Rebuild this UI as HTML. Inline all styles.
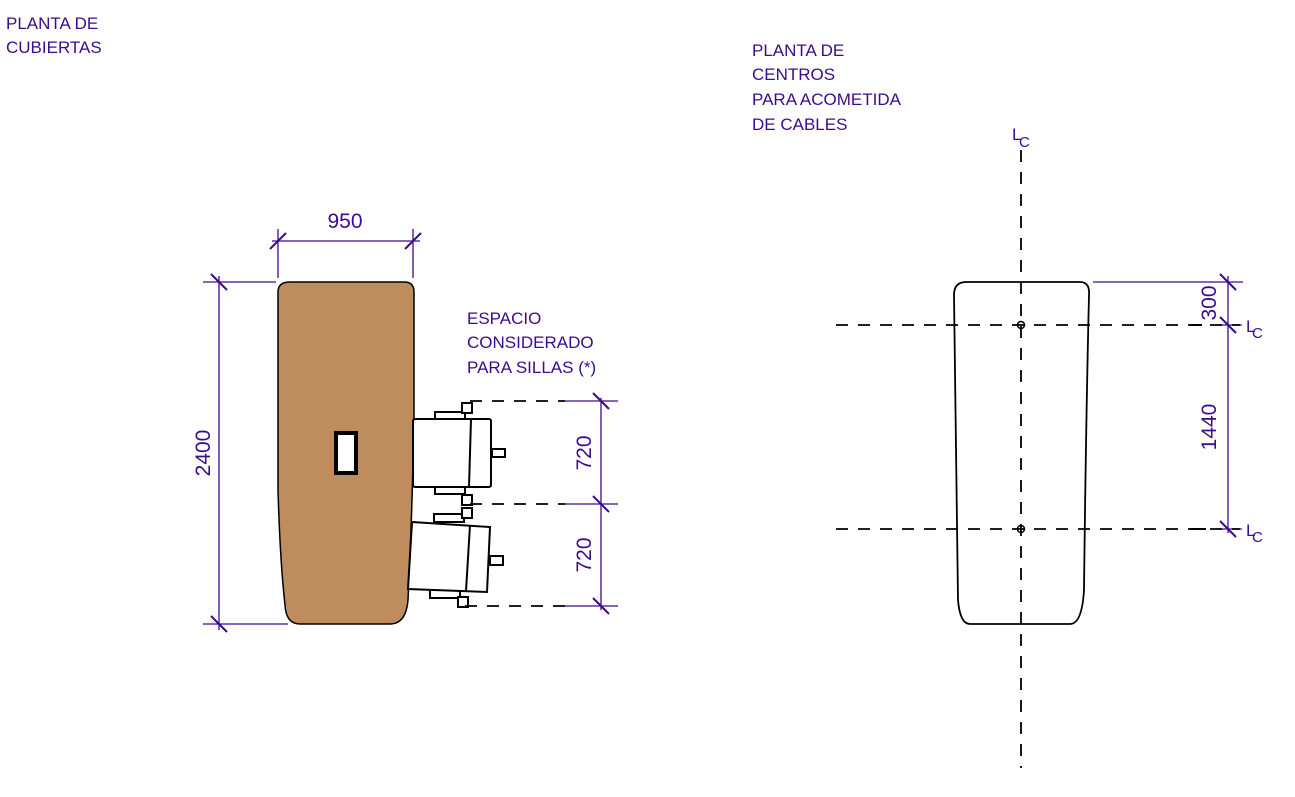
<!DOCTYPE html>
<html><head><style>body{margin:0;background:#fff}svg text{font-family:"Liberation Sans",sans-serif;fill:#3c0a8c}</style></head><body>
<svg width="1295" height="792" xmlns="http://www.w3.org/2000/svg">
<g font-size="17">
<text x="6" y="29">PLANTA DE</text><text x="6" y="53">CUBIERTAS</text>
<text x="752" y="56">PLANTA DE</text><text x="752" y="80">CENTROS</text><text x="752" y="105">PARA ACOMETIDA</text><text x="752" y="130">DE CABLES</text>
<text x="467" y="324">ESPACIO</text><text x="467" y="348">CONSIDERADO</text><text x="467" y="373">PARA SILLAS (*)</text>
</g>
<g stroke="#3c0a8c" stroke-width="1.3" fill="none">
<line x1="278" y1="229" x2="278" y2="278"/><line x1="413" y1="229" x2="413" y2="278"/>
<line x1="272" y1="241" x2="420" y2="241"/>
<line x1="270" y1="249" x2="286" y2="233" stroke-width="2"/><line x1="405" y1="249" x2="421" y2="233" stroke-width="2"/>
<line x1="203" y1="282" x2="276" y2="282"/><line x1="203" y1="624" x2="288" y2="624"/>
<line x1="219" y1="276" x2="219" y2="630"/>
<line x1="211" y1="274" x2="227" y2="290" stroke-width="2"/><line x1="211" y1="616" x2="227" y2="632" stroke-width="2"/>
<line x1="565" y1="401" x2="618" y2="401"/><line x1="565" y1="504" x2="618" y2="504"/><line x1="565" y1="606" x2="618" y2="606"/>
<line x1="601" y1="398" x2="601" y2="610"/>
<line x1="593" y1="393" x2="609" y2="409" stroke-width="2"/><line x1="593" y1="496" x2="609" y2="512" stroke-width="2"/><line x1="593" y1="598" x2="609" y2="614" stroke-width="2"/>
<line x1="1093" y1="282" x2="1243" y2="282"/><line x1="1218" y1="325" x2="1242" y2="325"/><line x1="1218" y1="529" x2="1242" y2="529"/>
<line x1="1228" y1="276" x2="1228" y2="533"/>
<line x1="1220" y1="274" x2="1236" y2="290" stroke-width="2"/><line x1="1220" y1="317" x2="1236" y2="333" stroke-width="2"/><line x1="1220" y1="521" x2="1236" y2="537" stroke-width="2"/>
</g>
<g font-size="21">
<text x="345" y="228" text-anchor="middle">950</text>
<text transform="translate(210,453) rotate(-90)" text-anchor="middle">2400</text>
<text transform="translate(591,453) rotate(-90)" text-anchor="middle">720</text>
<text transform="translate(591,555) rotate(-90)" text-anchor="middle">720</text>
<text transform="translate(1216,303) rotate(-90)" text-anchor="middle">300</text>
<text transform="translate(1216,427) rotate(-90)" text-anchor="middle">1440</text>
</g>
<g font-size="17"><text x="1012" y="140">L</text><text x="1019" y="147" font-size="15">C</text>
<text x="1246" y="332">L</text><text x="1252" y="338" font-size="15">C</text>
<text x="1246" y="536">L</text><text x="1252" y="542" font-size="15">C</text></g>
<path d="M290 282 H404 Q414 282 414 292 V420 Q412 520 408 600 Q406 624 390 624 H300 Q286 624 285 605 Q280 560 278 490 V292 Q278 282 290 282Z" fill="#bf8c5e" stroke="#000" stroke-width="1.5"/>
<rect x="336" y="433" width="20" height="40" fill="#fff" stroke="#000" stroke-width="4"/>
<g stroke="#000" stroke-width="2" fill="#fff">
<rect x="435" y="412" width="30" height="8"/><rect x="435" y="486" width="30" height="8"/>
<rect x="462" y="403" width="10" height="10"/><rect x="462" y="495" width="10" height="10"/>
<rect x="413" y="419" width="78" height="68" rx="2"/><line x1="471" y1="419" x2="469" y2="487"/>
<rect x="492" y="449" width="13" height="8"/>
<rect x="434" y="514" width="30" height="8"/><rect x="430" y="590" width="30" height="8"/>
<rect x="462" y="508" width="10" height="10"/><rect x="458" y="597" width="10" height="10"/>
<path d="M412 522 L490 527 L487 592 L408 589Z"/><line x1="470" y1="525" x2="466" y2="591"/>
<rect x="490" y="556" width="13" height="9"/>
</g>
<path d="M966 282 H1080 Q1090 282 1089 295 Q1086 420 1084 590 Q1082 624 1070 624 H970 Q960 624 958 600 Q955 420 954 295 Q954 282 966 282Z" fill="#fff" stroke="#000" stroke-width="1.8"/>
<g stroke="#000" stroke-width="1.8" stroke-dasharray="12,10">
<line x1="1021" y1="150" x2="1021" y2="768"/>
<line x1="836" y1="325" x2="1240" y2="325"/><line x1="836" y1="529" x2="1240" y2="529"/>
<line x1="470" y1="401" x2="565" y2="401"/><line x1="470" y1="504" x2="565" y2="504"/><line x1="465" y1="606" x2="565" y2="606"/>
</g>
<circle cx="1021" cy="325" r="3.5" fill="none" stroke="#000" stroke-width="1.5"/>
<circle cx="1021" cy="529" r="3.5" fill="none" stroke="#000" stroke-width="1.5"/>
<line x1="1190" y1="325" x2="1202" y2="325" stroke="#000" stroke-width="2"/>
<line x1="1190" y1="529" x2="1206" y2="529" stroke="#000" stroke-width="2"/>
</svg>
</body></html>
